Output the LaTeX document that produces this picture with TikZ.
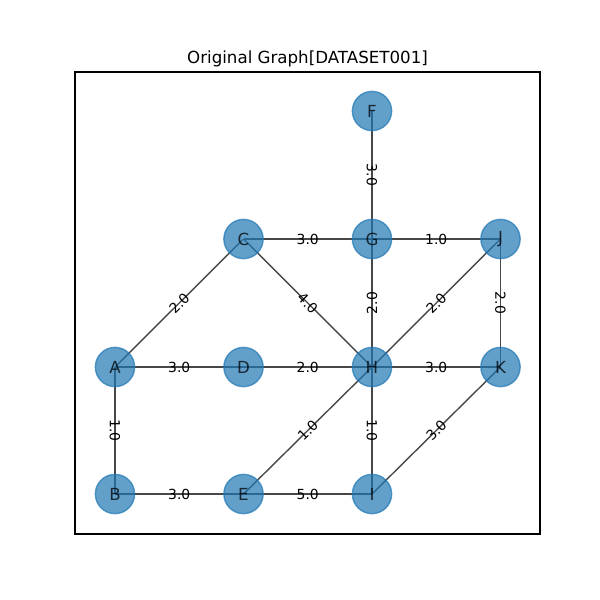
\documentclass[tikz,border=0pt]{standalone}
\usepackage{fontspec}
\setmainfont{DejaVu Sans}
\begin{document}
\pgfdeclarelayer{edges}
\pgfsetlayers{edges,main}
\definecolor{nodeblue}{HTML}{1F77B4}
\begin{tikzpicture}[x=0.72pt,y=-0.72pt,
  vertex/.style={circle,minimum size=28.3pt,inner sep=0pt,
    fill=nodeblue,fill opacity=0.7,draw=nodeblue,draw opacity=0.7,line width=1pt,
    text opacity=0.75,text=black,font=\fontsize{12}{14}\selectfont},
  link/.style={draw=black!72,line width=1pt},
  weight/.style={inner sep=1pt,text=black,font=\fontsize{10}{12}\selectfont},
  frame/.style={draw=black,line width=0.8pt}]
\useasboundingbox (0,0) rectangle (600,600);
% axes frame and title
\draw[frame] (75,72) rectangle (540,534);
\node[anchor=base,font=\fontsize{12}{14}\selectfont] (title) at (307.5,63.7) {Original Graph[DATASET001]};
% vertices
\node[vertex] (F) at (372,111) {F};
\node[vertex] (C) at (243.5,239) {C};
\node[vertex] (G) at (372,239) {G};
\node[vertex] (J) at (500.5,239) {J};
\node[vertex] (A) at (115,367) {A};
\node[vertex] (D) at (243.5,367) {D};
\node[vertex] (H) at (372,367) {H};
\node[vertex] (K) at (500.5,367) {K};
\node[vertex] (B) at (115,494) {B};
\node[vertex] (E) at (243.5,494) {E};
\node[vertex] (I) at (372,494) {I};
% weighted edges, centre to centre, beneath the vertices
\begin{pgfonlayer}{edges}
\path[link] (F.center) -- node[weight,rotate=-90] (lFG) {3.0} (G.center);
\path[link] (C.center) -- node[weight] (lCG) {3.0} (G.center);
\path[link] (G.center) -- node[weight] (lGJ) {1.0} (J.center);
\path[link] (A.center) -- node[weight,rotate=45] (lAC) {2.0} (C.center);
\path[link] (C.center) -- node[weight,rotate=-45] (lCH) {4.0} (H.center);
\path[link] (G.center) -- node[weight,rotate=90] (lGH) {2.0} (H.center);
\path[link] (H.center) -- node[weight,rotate=45] (lHJ) {2.0} (J.center);
\path[link] (J.center) -- node[weight,rotate=-90] (lJK) {2.0} (K.center);
\path[link] (A.center) -- node[weight] (lAD) {3.0} (D.center);
\path[link] (D.center) -- node[weight] (lDH) {2.0} (H.center);
\path[link] (H.center) -- node[weight] (lHK) {3.0} (K.center);
\path[link] (A.center) -- node[weight,rotate=-90] (lAB) {1.0} (B.center);
\path[link] (E.center) -- node[weight,rotate=45] (lEH) {1.0} (H.center);
\path[link] (H.center) -- node[weight,rotate=-90] (lHI) {1.0} (I.center);
\path[link] (I.center) -- node[weight,rotate=45] (lIK) {3.0} (K.center);
\path[link] (B.center) -- node[weight] (lBE) {3.0} (E.center);
\path[link] (E.center) -- node[weight] (lEI) {5.0} (I.center);
\end{pgfonlayer}
\end{tikzpicture}
\end{document}
